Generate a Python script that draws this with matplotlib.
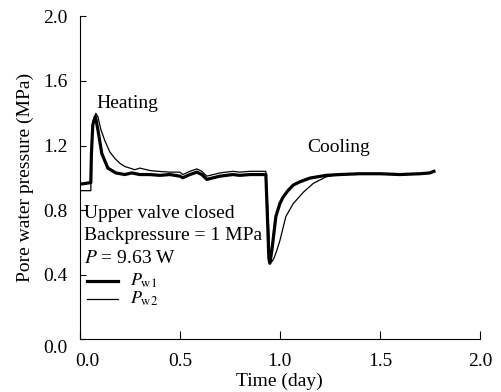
import numpy as np
import matplotlib
matplotlib.use('Agg')
import matplotlib.pyplot as plt
import matplotlib.transforms as mtransforms

plt.rcParams['font.family'] = 'Liberation Serif'
plt.rcParams['mathtext.fontset'] = 'stix'

# thick line: Pw1
t_w1 = [0, 0.055, 0.058, 0.065, 0.078, 0.09, 0.11, 0.14, 0.18, 0.225, 0.26, 0.3, 0.35, 0.4, 0.45,
        0.5, 0.515, 0.55, 0.585, 0.61, 0.635, 0.7, 0.765, 0.8, 0.85, 0.93, 0.938, 0.945, 0.95, 0.96,
        0.98, 1.0, 1.016, 1.04, 1.067, 1.1, 1.15, 1.23, 1.3, 1.4, 1.5, 1.6, 1.7, 1.75, 1.77]
p_w1 = [0.96, 0.97, 1.15, 1.33, 1.38, 1.30, 1.15, 1.06, 1.03, 1.02, 1.03, 1.02, 1.02, 1.015, 1.02,
        1.01, 1.00, 1.02, 1.035, 1.02, 0.99, 1.01, 1.02, 1.015, 1.02, 1.02, 0.75, 0.5, 0.47, 0.55,
        0.76, 0.84, 0.88, 0.92, 0.955, 0.975, 0.998, 1.015, 1.02, 1.025, 1.025, 1.02, 1.025, 1.03, 1.04]

# thin line: Pw2
t_w2 = [0, 0.055, 0.058, 0.065, 0.08, 0.09, 0.105, 0.125, 0.15, 0.175, 0.2, 0.225, 0.275, 0.3, 0.35,
        0.39, 0.45, 0.5, 0.515, 0.55, 0.585, 0.61, 0.635, 0.7, 0.765, 0.8, 0.85, 0.93, 0.94, 0.95,
        0.96, 0.97, 0.985, 1.0, 1.03, 1.067, 1.117, 1.167, 1.23, 1.27, 1.3, 1.4, 1.5, 1.6, 1.7, 1.75, 1.77]
p_w2 = [0.92, 0.92, 1.15, 1.35, 1.40, 1.38, 1.30, 1.23, 1.16, 1.12, 1.09, 1.07, 1.05, 1.06, 1.045,
        1.04, 1.035, 1.035, 1.02, 1.04, 1.055, 1.04, 1.01, 1.03, 1.04, 1.035, 1.04, 1.04, 0.8, 0.52,
        0.48, 0.5, 0.55, 0.61, 0.76, 0.84, 0.91, 0.965, 1.005, 1.015, 1.02, 1.025, 1.025, 1.02, 1.025, 1.03, 1.04]

fig = plt.figure(figsize=(5.02, 3.92), dpi=100)
ax = fig.add_axes([0.159, 0.135, 0.797, 0.823])

ax.plot(t_w1, p_w1, color='black', lw=2.3)
ax.plot(t_w2, p_w2, color='black', lw=0.9)

ax.set_xlim(0, 2.0)
ax.set_ylim(0, 2.0)
ax.set_xticks([0, 0.5, 1.0, 1.5, 2.0])
ax.set_yticks([0, 0.4, 0.8, 1.2, 1.6, 2.0])
ax.xaxis.set_major_formatter(matplotlib.ticker.FormatStrFormatter('%.1f'))
ax.yaxis.set_major_formatter(matplotlib.ticker.FormatStrFormatter('%.1f'))
ax.spines['top'].set_visible(False)
ax.spines['right'].set_visible(False)
ax.tick_params(axis='x', direction='in', length=6, labelsize=14, pad=10)
ax.tick_params(axis='y', direction='in', length=4, labelsize=14, pad=9)
ax.set_xlabel('Time (day)', fontsize=14, va='top')
ax.xaxis.set_label_coords(0.5, -0.103)
ax.set_ylabel('Pore water pressure (MPa)', fontsize=14, labelpad=6)

# nudge the two 0.0 labels apart at the origin, as in the original
fig.canvas.draw()
xl0 = ax.get_xticklabels()[0]
xl0.set_transform(xl0.get_transform() + mtransforms.ScaledTranslation(8/100, 0, fig.dpi_scale_trans))
yl0 = ax.get_yticklabels()[0]
yl0.set_transform(yl0.get_transform() + mtransforms.ScaledTranslation(0, -7/100, fig.dpi_scale_trans))

ax.text(0.085, 1.46, 'Heating', fontsize=14, va='center')
ax.text(1.135, 1.19, 'Cooling', fontsize=14, va='center')
ax.text(0.02, 0.78, 'Upper valve closed', fontsize=14, va='center')
ax.text(0.02, 0.64, 'Backpressure = 1 MPa', fontsize=14, va='center')
ax.text(0.02, 0.50, '$P$ = 9.63 W', fontsize=14, va='center')

ax.plot([0.035, 0.19], [0.36, 0.36], color='black', lw=2.3)
ax.plot([0.035, 0.19], [0.25, 0.25], color='black', lw=0.9)
ax.text(0.25, 0.36, r'$P_{\rm w1}$', fontsize=13, va='center')
ax.text(0.25, 0.25, r'$P_{\rm w2}$', fontsize=13, va='center')

plt.savefig('out.png', dpi=100)
